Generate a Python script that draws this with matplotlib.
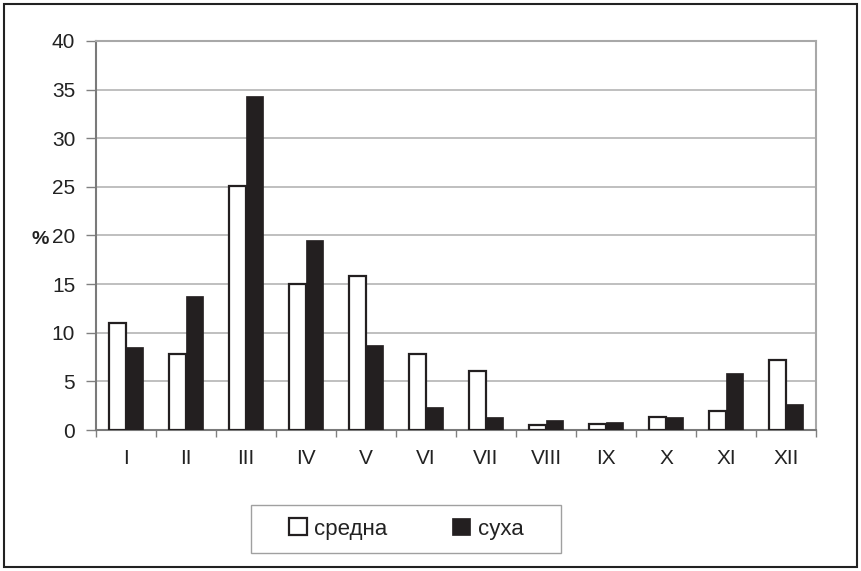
import numpy as np
import matplotlib.pyplot as plt
from matplotlib.patches import Rectangle

plt.rcParams['font.family'] = ['Liberation Sans', 'DejaVu Sans']

months = ["I", "II", "III", "IV", "V", "VI", "VII", "VIII", "IX", "X", "XI", "XII"]
sredna = [11.0, 7.8, 25.1, 15.0, 15.8, 7.8, 6.1, 0.5, 0.65, 1.3, 2.0, 7.2]
suha = [8.5, 13.8, 34.3, 19.55, 8.7, 2.4, 1.3, 1.0, 0.8, 1.3, 5.9, 2.7]

dark = '#231f20'
x = np.arange(len(months))
w = 0.29

fig = plt.figure(figsize=(8.61, 5.71), dpi=100)
ax = fig.add_axes([96 / 861, 1 - 430 / 571, 720 / 861, 389 / 571])

ax.bar(x - w / 2, sredna, w, color='white', edgecolor=dark, linewidth=1.6,
       label='средна', zorder=3)
ax.bar(x + w / 2, suha, w, color=dark, edgecolor=dark, linewidth=0.5,
       label='суха', zorder=3)

ax.set_xlim(-0.5, len(months) - 0.5)
ax.set_ylim(0, 40)
ax.set_yticks(range(0, 41, 5))
ax.yaxis.grid(True, color='#b4b4b4', linewidth=1.2, zorder=0)
ax.set_axisbelow(True)

ax.set_xticks(x)
ax.set_xticklabels(months, fontsize=15, color='#222222')
ax.set_xticks(np.arange(-0.5, len(months), 1), minor=True)
ax.tick_params(axis='x', which='major', length=0, pad=14)
ax.tick_params(axis='x', which='minor', length=5, width=1, color='#808080')
ax.tick_params(axis='y', length=7, width=1, color='#808080', labelsize=15,
               labelcolor='#222222', pad=8)

for s in ['left', 'bottom']:
    ax.spines[s].set_color('#7a7a7a')
    ax.spines[s].set_linewidth(1.5)
for s in ['top', 'right']:
    ax.spines[s].set_color('#a8a8a8')
    ax.spines[s].set_linewidth(1.5)

fig.text(40 / 861, 1 - 239 / 571, '%', fontsize=14, fontweight='bold',
         color='#222222', ha='center', va='center')

# legend
fig.patches.append(Rectangle((251 / 861, 1 - 553 / 571), 310 / 861, 48 / 571,
                             transform=fig.transFigure, facecolor='white',
                             edgecolor='#a0a0a0', linewidth=1.0))
leg = fig.legend(loc='center', bbox_to_anchor=(406 / 861, 1 - 529 / 571),
                 ncol=2, fontsize=16, frameon=False,
                 handlelength=0.8, handleheight=0.8,
                 columnspacing=2.9, handletextpad=0.35, borderpad=0,
                 borderaxespad=0)
for t in leg.get_texts():
    t.set_color('#222222')

# outer frame
fig.patches.append(Rectangle((4 / 861, 4 / 571), 853 / 861, 563 / 571,
                             transform=fig.transFigure, fill=False,
                             edgecolor='#222222', linewidth=1.5))

fig.savefig('out.png', dpi=100)
